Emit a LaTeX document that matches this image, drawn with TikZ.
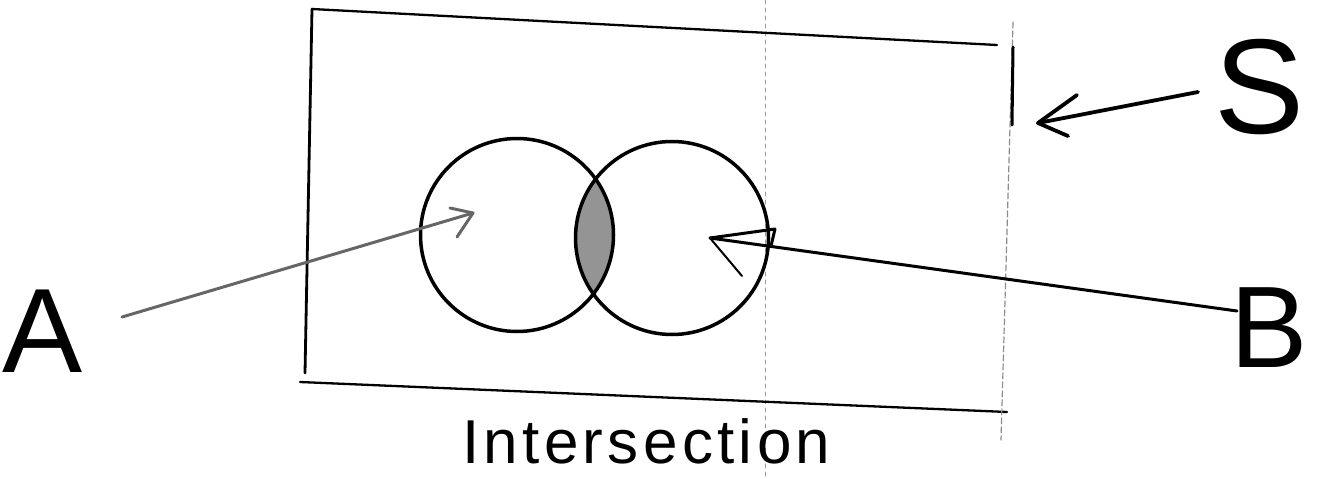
\documentclass[tikz,border=0pt]{standalone}
\usepackage{fontspec}
\setmainfont{Liberation Sans}
\begin{document}
\begin{tikzpicture}[x=1pt,y=-1pt,line cap=round,line join=round,
  boxline/.style={line width=2.3pt},
  faintline/.style={line width=1.2pt,black!45,dash pattern=on 6pt off 3pt},
  foldline/.style={line width=0.8pt,black!40,dash pattern=on 4pt off 4pt},
  venn/.style={draw,circle,line width=3.5pt,minimum size=193pt,inner sep=0pt},
  pen/.style={line width=3pt},
  graypen/.style={line width=3pt,black!60},
  lbl/.style={inner sep=0pt,font=\fontsize{120}{120}\selectfont},
]
\useasboundingbox (0,0) rectangle (1323,479);

% scan fold line
\draw[foldline] (765,0) -- (765,479);

% universal set rectangle
\coordinate (tl) at (312,9);
\coordinate (tr) at (997,45);
\coordinate (bl) at (305,373);
\coordinate (bl2) at (300,382);
\coordinate (br) at (1007,412);
\draw[boxline] (tl) -- (tr);
\draw[boxline,line width=2.8pt] (tl) -- (bl);
\draw[boxline] (bl2) -- (br);
\draw[faintline] (1013,22) -- (1001,440);
\draw[boxline,line width=3pt] (1013,47) -- (1012,125);

% intersection shading
\begin{scope}
  \clip (517,235) circle[radius=96pt];
  \fill[black!42] (672,238) circle[radius=97pt];
\end{scope}

% circles
\node[venn] (CA) at (517,235) {};
\node[venn] (CB) at (672,238) {};

% labels
\node[lbl] (A) at (43,331) {A};
\node[lbl,font=\fontsize{116}{116}\selectfont] (B) at (1269,328) {B};
\node[lbl,font=\fontsize{135}{135}\selectfont] (S) at (1260,87) {S};
\node[inner sep=0pt,anchor=base west,font=\fontsize{62}{62}\selectfont\addfontfeatures{LetterSpace=7}] (I) at (462,463) {Intersection};

% arrow A
\coordinate (tailA) at (122,317);
\coordinate (tipA) at (473,213);
\draw[graypen] (tailA) -- (tipA);
\draw[graypen] (tipA) ++(-23,-5) -- (tipA) -- ++(-16,24);

% arrow B
\coordinate (tailB) at (1237,311);
\coordinate (tipB) at (710,238);
\draw[pen] (tailB) -- (tipB);
\draw[pen] (tipB) -- (775,229) -- (771,246);
\draw[pen,line width=2pt] (tipB) -- ++(32,38);

% arrow S
\coordinate (tailS) at (1198,92);
\coordinate (tipS) at (1038,123);
\draw[pen,line width=3.8pt] (tailS) -- (tipS);
\draw[pen,line width=3.8pt] (tipS) ++(39,-28) -- (tipS) -- ++(30,13);
\end{tikzpicture}
\end{document}
